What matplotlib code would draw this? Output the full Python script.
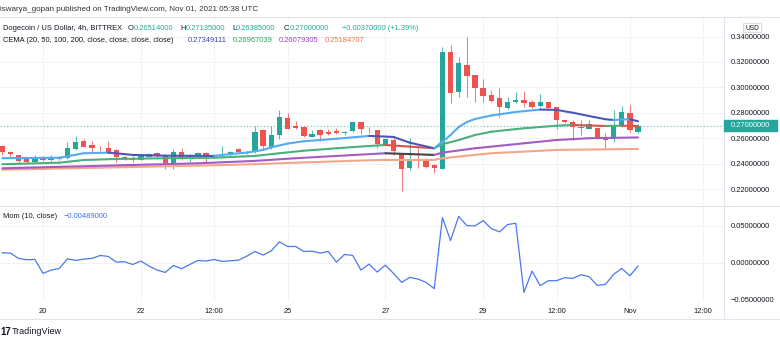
import matplotlib
matplotlib.use("Agg")
import matplotlib.pyplot as plt
import numpy as np
from matplotlib.collections import LineCollection
from matplotlib.lines import Line2D
from matplotlib.patches import FancyBboxPatch, Rectangle

# DOGE/USD 4h bars, Oct 19 04:00 -> Nov 1 04:00
opens = [0.2541, 0.2494, 0.2471, 0.2439, 0.2418, 0.2455, 0.2429, 0.2455, 0.2445, 0.2515,
         0.2583, 0.2547, 0.2526, 0.2526, 0.2508, 0.2455, 0.2439, 0.2429, 0.2457, 0.2486,
         0.2468, 0.2403, 0.2494, 0.2439, 0.2465, 0.2489, 0.2457, 0.2461, 0.2468, 0.2515,
         0.2497, 0.2492, 0.2664, 0.2536, 0.2630, 0.2761, 0.2698, 0.2690, 0.2614, 0.2667,
         0.2649, 0.2657, 0.2643, 0.2659, 0.2727, 0.2669, 0.2667, 0.2549, 0.2588, 0.2484,
         0.2367, 0.2437, 0.2437, 0.2392, 0.2359, 0.3281, 0.2965, 0.3179, 0.3098, 0.2998,
         0.2941, 0.2915, 0.2842, 0.2889, 0.2902, 0.2884, 0.2855, 0.2889, 0.2845, 0.2745,
         0.2729, 0.2680, 0.2677, 0.2685, 0.2602, 0.2594, 0.2698, 0.2797, 0.2651]
highs = [0.2545, 0.2502, 0.2473, 0.2444, 0.2468, 0.2461, 0.2468, 0.2461, 0.2570, 0.2620,
         0.2596, 0.2578, 0.2544, 0.2578, 0.2516, 0.2463, 0.2463, 0.2476, 0.2484, 0.2494,
         0.2476, 0.2515, 0.2528, 0.2476, 0.2494, 0.2497, 0.2478, 0.2541, 0.2502, 0.2523,
         0.2505, 0.2700, 0.2672, 0.2698, 0.2826, 0.2797, 0.2737, 0.2698, 0.2664, 0.2677,
         0.2677, 0.2680, 0.2659, 0.2740, 0.2727, 0.2690, 0.2667, 0.2598, 0.2601, 0.2484,
         0.2602, 0.2528, 0.2450, 0.2403, 0.3316, 0.3333, 0.3242, 0.3398, 0.3098, 0.3067,
         0.2980, 0.2994, 0.2928, 0.2967, 0.2972, 0.2902, 0.2947, 0.2889, 0.2845, 0.2745,
         0.2745, 0.2745, 0.2745, 0.2685, 0.2643, 0.2824, 0.2857, 0.2863, 0.2714]
lows = [0.2468, 0.2457, 0.2410, 0.2410, 0.2416, 0.2420, 0.2420, 0.2433, 0.2437, 0.2510,
        0.2531, 0.2494, 0.2503, 0.2484, 0.2416, 0.2431, 0.2416, 0.2429, 0.2455, 0.2455,
        0.2359, 0.2359, 0.2431, 0.2416, 0.2457, 0.2416, 0.2450, 0.2450, 0.2463, 0.2486,
        0.2478, 0.2484, 0.2520, 0.2520, 0.2599, 0.2672, 0.2677, 0.2609, 0.2609, 0.2583,
        0.2625, 0.2633, 0.2628, 0.2653, 0.2633, 0.2641, 0.2523, 0.2549, 0.2471, 0.2191,
        0.2352, 0.2367, 0.2367, 0.2327, 0.2359, 0.2876, 0.2928, 0.2928, 0.2890, 0.2890,
        0.2889, 0.2766, 0.2829, 0.2876, 0.2849, 0.2836, 0.2849, 0.2829, 0.2672, 0.2719,
        0.2588, 0.2627, 0.2672, 0.2594, 0.2515, 0.2575, 0.2690, 0.2653, 0.2639]
closes = [0.2494, 0.2476, 0.2426, 0.2418, 0.2457, 0.2429, 0.2455, 0.2439, 0.2526, 0.2575,
          0.2536, 0.2528, 0.2524, 0.2494, 0.2455, 0.2437, 0.2429, 0.2468, 0.2476, 0.2468,
          0.2406, 0.2494, 0.2439, 0.2465, 0.2489, 0.2465, 0.2468, 0.2463, 0.2497, 0.2497,
          0.2484, 0.2649, 0.2541, 0.2630, 0.2769, 0.2677, 0.2685, 0.2622, 0.2633, 0.2625,
          0.2638, 0.2643, 0.2653, 0.2727, 0.2672, 0.2665, 0.2555, 0.2594, 0.2502, 0.2359,
          0.2439, 0.2426, 0.2379, 0.2367, 0.3281, 0.2959, 0.3190, 0.3093, 0.2998, 0.2936,
          0.2896, 0.2845, 0.2889, 0.2902, 0.2881, 0.2849, 0.2884, 0.2842, 0.2745, 0.2732,
          0.2688, 0.2693, 0.2711, 0.2602, 0.2591, 0.2698, 0.2805, 0.2667, 0.2700]

# EMA lines, read at a handful of bars
ema20_bars = [0, 7, 10, 13, 16, 20, 26, 28, 30, 32, 33, 35, 37, 41, 45, 48, 50, 53,
              54, 55, 56, 57, 58, 60, 63, 66, 68, 70, 72, 74, 75, 77, 78]
ema20_vals = [0.2445, 0.2449, 0.2484, 0.2489, 0.2471, 0.2465, 0.2463, 0.2478, 0.2489,
              0.2510, 0.2530, 0.2560, 0.2578, 0.2598, 0.2620, 0.2612, 0.2567, 0.2523,
              0.2575, 0.2627, 0.2690, 0.2729, 0.2753, 0.2780, 0.2808, 0.2827, 0.2824,
              0.2802, 0.2776, 0.2751, 0.2745, 0.2751, 0.2735]
ema50_bars = [0, 7, 10, 14, 20, 26, 31, 34, 37, 41, 45, 47, 50, 53, 54, 56, 58, 60, 64,
              68, 70, 74, 76, 78]
ema50_vals = [0.2398, 0.2410, 0.2431, 0.2439, 0.2445, 0.2449, 0.2463, 0.2484, 0.2504,
              0.2523, 0.2541, 0.2549, 0.2536, 0.2523, 0.2555, 0.2588, 0.2627, 0.2653,
              0.2680, 0.2700, 0.2706, 0.2698, 0.2700, 0.2697]
ema100_bars = [0, 16, 24, 31, 36, 47, 53, 54, 58, 64, 68, 72, 78]
ema100_vals = [0.2366, 0.2392, 0.2405, 0.2424, 0.2445, 0.2484, 0.2471, 0.2489, 0.2523,
               0.2562, 0.2588, 0.2602, 0.2608]
ema200_bars = [0, 16, 24, 31, 36, 47, 53, 54, 60, 68, 78]
ema200_vals = [0.2355, 0.2376, 0.2387, 0.2398, 0.2410, 0.2433, 0.2433, 0.2445, 0.2484,
               0.2510, 0.2518]

# Momentum (10, close)
mom = [0.0135, 0.0131, 0.0059, 0.0041, 0.0045, -0.0144, -0.0099, -0.0077, 0.0054, 0.0032,
       0.0050, 0.0059, 0.0099, 0.0086, 0.0009, 0.0014, -0.0023, 0.0023, -0.0045, -0.0099,
       -0.0131, -0.0036, -0.0081, -0.0023, 0.0032, 0.0023, 0.0045, 0.0018, 0.0027, 0.0036,
       0.0090, 0.0153, 0.0104, 0.0162, 0.0284, 0.0221, 0.0221, 0.0153, 0.0158, 0.0131,
       0.0153, 0.0009, 0.0113, 0.0099, -0.0099, -0.0018, -0.0126, -0.0032, -0.0144, -0.0266,
       -0.0198, -0.0221, -0.0266, -0.0351, 0.0612, 0.0302, 0.0630, 0.0504, 0.0500, 0.0572,
       0.0464, 0.0419, 0.0518, 0.0536, -0.0401, -0.0113, -0.0311, -0.0243, -0.0243, -0.0203,
       -0.0212, -0.0162, -0.0189, -0.0306, -0.0293, -0.0158, -0.0077, -0.0176, -0.0045]

time_ticks = [5, 17, 26, 35, 47, 59, 68, 77, 86]
time_labels = ['20', '22', '12:00', '25', '27', '29', '12:00', 'Nov', '12:00']
price_ticks = [0.22, 0.24, 0.26, 0.28, 0.30, 0.32, 0.34]
mom_ticks = [-0.05, 0.0, 0.05]

UP = '#26a69a'
DOWN = '#ef5350'
TXT = '#131722'
GRID = '#f0f2f6'
SEP = '#e0e3eb'
FS = 5.4

plt.rcParams['font.family'] = ['Liberation Sans', 'DejaVu Sans']

W, H = 780, 343
fig = plt.figure(figsize=(W / 100, H / 100), dpi=100)


def fx(px):
    return px / W


def fy(py):
    return 1 - py / H


ax = fig.add_axes([0, fy(205), fx(724), (205 - 17) / H])
axm = fig.add_axes([0, fy(300), fx(724), (300 - 206) / H], sharex=ax)

xmin, xmax = -0.28, 88.55
ax.set_xlim(xmin, xmax)
ax.set_ylim(0.2078, 0.3553)
axm.set_ylim(-0.0505, 0.0770)

for a in (ax, axm):
    for s in a.spines.values():
        s.set_visible(False)
    a.set_xticks(time_ticks)
    a.grid(True, color=GRID, lw=0.7)
    a.set_axisbelow(True)
    a.yaxis.tick_right()
    a.tick_params(length=0, labelsize=FS, labelcolor=TXT, pad=5)
ax.tick_params(labelbottom=False)
axm.set_xticklabels(time_labels)
axm.tick_params(axis='x', pad=6)
ax.set_yticks(price_ticks)
ax.set_yticklabels(['%.8f' % v for v in price_ticks])
axm.set_yticks(mom_ticks)
axm.set_yticklabels([('%.8f' % v).replace('-', '\u2212') for v in mom_ticks])

# candles
for i, (o, h, l, c) in enumerate(zip(opens, highs, lows, closes)):
    col = UP if c >= o else DOWN
    ax.vlines(i, l, h, color=col, lw=0.8, alpha=0.75, zorder=3)
    ax.bar(i, max(abs(c - o), 0.0005), bottom=min(o, c), width=0.66, color=col, zorder=4)


def ema_line(bars, vals, up, down):
    pts = np.column_stack([bars, vals])
    segs = np.stack([pts[:-1], pts[1:]], axis=1)
    cols = [up if b >= a else down for a, b in zip(vals[:-1], vals[1:])]
    ax.add_collection(LineCollection(segs, colors=cols, linewidths=1.5,
                                     capstyle='round', joinstyle='round', zorder=5))


ema_line(ema200_bars, ema200_vals, '#f4a68a', '#f4a68a')
ema_line(ema100_bars, ema100_vals, '#a45cc4', '#444444')
ema_line(ema50_bars, ema50_vals, '#4caf7d', '#e0504a')
ema_line(ema20_bars, ema20_vals, '#55aaf0', '#4a57b8')

# last price line + label
ax.axhline(closes[-1], color=UP, lw=0.8, ls=(0, (1, 2)), alpha=0.7, zorder=2)
fig.patches.append(Rectangle((fx(724), fy(131)), fx(53), 11 / H, transform=fig.transFigure,
                             color=UP, zorder=10))
fig.text(fx(750.5), fy(125.5), '%.8f' % closes[-1], color='white', fontsize=FS,
         ha='center', va='center', zorder=11)

# momentum line
axm.plot(range(len(mom)), mom, color='#4a78f0', lw=0.9)

# separators
for y in (17, 205.5, 319):
    fig.add_artist(Line2D([0, 1], [fy(y), fy(y)], color=SEP, lw=0.8))
fig.add_artist(Line2D([fx(724), fx(724)], [fy(17), fy(319)], color=SEP, lw=0.8))

# header texts
fig.text(fx(0), fy(9.5), 'iswarya_gopan published on TradingView.com, Nov 01, 2021 05:38 UTC',
         color='#333333', fontsize=FS + 0.4, va='center')


def seq(x, y, parts):
    r = fig.canvas.get_renderer()
    for s, col in parts:
        t = fig.text(fx(x), fy(y), s, color=col, fontsize=FS, va='center')
        x = t.get_window_extent(r).x1 + 0.0


fig.text(fx(2.7), fy(28.5), 'Dogecoin / US Dollar, 4h, BITTREX', color=TXT, fontsize=FS, va='center')
seq(128, 28.5, [('O', TXT), ('0.26514000', UP)])
seq(180, 28.5, [('H', TXT), ('0.27135000', UP)])
seq(232, 28.5, [('L', TXT), ('0.26385000', UP)])
seq(284, 28.5, [('C', TXT), ('0.27000000', UP)])
fig.text(fx(342), fy(28.5), '+0.00370000 (+1.39%)', color=UP, fontsize=FS, va='center')

fig.text(fx(2.7), fy(40), 'CEMA (20, 50, 100, 200, close, close, close, close)', color=TXT,
         fontsize=FS, va='center')
for xx, s, col in [(188, '0.27349111', '#3548b0'), (233, '0.26967039', '#2e9e5e'),
                   (279, '0.26079305', '#9c3fc2'), (325, '0.25184707', '#f2703f')]:
    fig.text(fx(xx), fy(40), s, color=col, fontsize=FS, va='center')

fig.text(fx(2.7), fy(216), 'Mom (10, close)', color=TXT, fontsize=FS, va='center')
fig.text(fx(64), fy(216), '\u22120.00489000', color='#3d6ff0', fontsize=FS, va='center')

# USD badge
fig.patches.append(FancyBboxPatch((fx(745), fy(32)), fx(15), 8 / H, transform=fig.transFigure,
                                  boxstyle='round,pad=0.002', fc='white', ec='#d1d4dc', lw=0.6))
fig.text(fx(752.5), fy(28), 'USD', color=TXT, fontsize=FS - 0.6, ha='center', va='center')

# logo
fig.text(fx(0.5), fy(332), '17', color=TXT, fontsize=7, fontweight='bold', va='center')
fig.text(fx(12), fy(332), 'TradingView', color=TXT, fontsize=6.5, va='center')

fig.savefig('out.png', dpi=100)
